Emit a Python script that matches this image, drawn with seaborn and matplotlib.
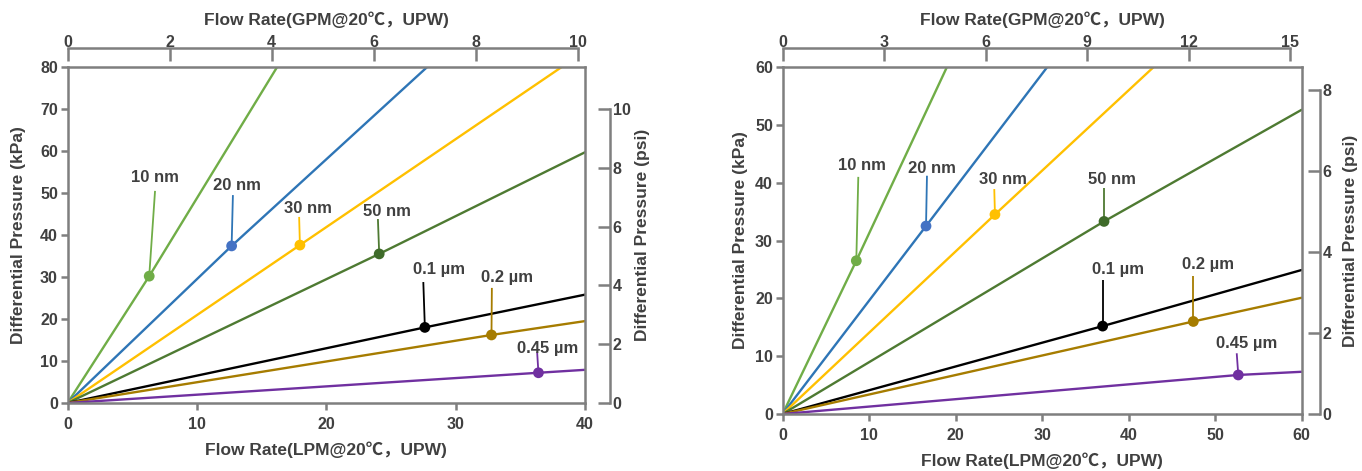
import matplotlib
matplotlib.use("Agg")
import matplotlib.pyplot as plt
import seaborn as sns
import pandas as pd

# ---------------- data ----------------
sizes = ["10 nm", "20 nm", "30 nm", "50 nm", "0.1 µm", "0.2 µm", "0.45 µm"]
line_colors = ["#70AD47", "#2E75B6", "#FFC000", "#4E7A32", "#000000", "#A67C00", "#7030A0"]
marker_colors = ["#70AD47", "#4472C4", "#FFC000", "#3F6B2A", "#000000", "#A67C00", "#7030A0"]

# left chart (40 LPM / 80 kPa)
left_marker_flow = [6.31, 12.68, 17.96, 24.09, 27.62, 32.77, 36.4]
left_marker_kpa = [30.2, 37.4, 37.6, 35.5, 18.0, 16.2, 7.2]
left_end_flow = [16.2, 27.8, 38.2, 40, 40, 40, 40]
left_end_kpa = [80, 80, 80, 59.7, 25.8, 19.5, 7.9]
left_label_flow = [6.76, 13.09, 18.58, 24.68, 28.7, 33.96, 37.1]
left_label_kpa = [53.8, 51.7, 46.2, 45.7, 31.9, 29.8, 13.0]
left_leader_flow = [6.76, 12.78, 17.9, 23.99, 27.5, 32.8, 36.3]
left_leader_kpa = [50.5, 49.5, 44.3, 43.8, 28.8, 27.4, 12.1]
left_lpm_ticks = [0, 10, 20, 30, 40]
left_kpa_ticks = [0, 10, 20, 30, 40, 50, 60, 70, 80]
left_gpm_ticks = [0, 2, 4, 6, 8, 10]
left_psi_ticks = [0, 2, 4, 6, 8, 10]

# right chart (60 LPM / 60 kPa)
right_marker_flow = [8.52, 16.58, 24.55, 37.16, 37.0, 47.48, 52.68]
right_marker_kpa = [26.5, 32.5, 34.5, 33.3, 15.2, 16.0, 6.75]
right_end_flow = [19.0, 30.6, 42.9, 60, 60, 60, 60]
right_end_kpa = [60, 60, 60, 52.6, 24.9, 20.1, 7.3]
right_label_flow = [9.14, 17.24, 25.44, 38.1, 38.8, 49.2, 53.65]
right_label_kpa = [43.0, 42.4, 40.5, 40.5, 25.0, 25.8, 12.2]
right_leader_flow = [8.75, 16.69, 24.47, 37.16, 37.0, 47.48, 52.5]
right_leader_kpa = [41.0, 41.2, 38.9, 39.0, 23.1, 23.9, 10.5]
right_lpm_ticks = [0, 10, 20, 30, 40, 50, 60]
right_kpa_ticks = [0, 10, 20, 30, 40, 50, 60]
right_gpm_ticks = [0, 3, 6, 9, 12, 15]
right_psi_ticks = [0, 2, 4, 6, 8]

# ---------------- style ----------------
sns.set_theme(style="white")
FAM = ["Liberation Sans", "Noto Sans CJK SC", "DejaVu Sans"]
plt.rcParams["font.family"] = FAM
plt.rcParams["font.weight"] = "bold"
TXT = "#404040"
SP = "#7F7F7F"
TICK_FS = 11.5
LAB_FS = 12.5
ANN_FS = 12

fig = plt.figure(figsize=(13.62, 4.71), dpi=100)
W, H = 1362, 471


def make_axes(l, r, t, b):
    return fig.add_axes([l / W, (H - b) / H, (r - l) / W, (b - t) / H])


def draw_chart(ax, mflow, mkpa, eflow, ekpa, lflow, lkpa, qflow, qkpa,
               lpm_ticks, kpa_ticks, gpm_ticks, psi_ticks,
               xmax, ymax, gpm_max, psi_max, psi_off, ylabel_pad, psi_pad):
    rows = []
    for i, s in enumerate(sizes):
        for x, y in [(0, 0), (mflow[i], mkpa[i]), (eflow[i], ekpa[i])]:
            rows.append({"size": s, "flow": x, "kpa": y})
    df = pd.DataFrame(rows)
    mdf = pd.DataFrame({"size": sizes, "flow": mflow, "kpa": mkpa})

    sns.lineplot(data=df, x="flow", y="kpa", hue="size", hue_order=sizes,
                 palette=line_colors, sort=False, estimator=None,
                 legend=False, linewidth=1.7, ax=ax)
    # leader lines and labels
    for i, s in enumerate(sizes):
        ax.plot([qflow[i], mflow[i]], [qkpa[i], mkpa[i]],
                color=line_colors[i], lw=1.3, solid_capstyle="butt", zorder=3)
        ax.text(lflow[i], lkpa[i], s, ha="center", va="center",
                fontsize=ANN_FS, fontweight="bold", color=TXT, zorder=5)
    sns.scatterplot(data=mdf, x="flow", y="kpa", hue="size", hue_order=sizes,
                    palette=marker_colors, s=60, edgecolor="none",
                    legend=False, ax=ax, zorder=4)

    ax.set_xlim(0, xmax)
    ax.set_ylim(0, ymax)
    ax.set_xticks(lpm_ticks)
    ax.set_yticks(kpa_ticks)
    for sp in ax.spines.values():
        sp.set_visible(True)
        sp.set_color(SP)
        sp.set_linewidth(1.8)
    ax.tick_params(axis="both", direction="out", length=5, width=1.8,
                   color=SP, labelsize=TICK_FS, labelcolor=TXT, pad=2)
    ax.tick_params(axis="x", pad=5)
    for lab in ax.get_xticklabels() + ax.get_yticklabels():
        lab.set_fontweight("bold")
    ax.set_xlabel("Flow Rate(LPM@20℃，UPW)", fontsize=LAB_FS, fontweight="bold",
                  color=TXT, labelpad=7)
    ax.set_ylabel("Differential Pressure (kPa)", fontsize=LAB_FS,
                  fontweight="bold", color=TXT, labelpad=ylabel_pad)
    ax.grid(False)

    # top GPM axis
    top = ax.twiny()
    top.set_xlim(0, gpm_max)
    top.set_xticks(gpm_ticks)
    for k in ["left", "right", "bottom"]:
        top.spines[k].set_visible(False)
    top.spines["top"].set_position(("outward", 14))
    top.spines["top"].set_bounds(0, gpm_ticks[-1])
    top.spines["top"].set_color(SP)
    top.spines["top"].set_linewidth(1.8)
    top.tick_params(axis="x", direction="in", length=9, width=1.8, color=SP,
                    labelsize=TICK_FS, labelcolor=TXT, pad=-1.5)
    for lab in top.get_xticklabels():
        lab.set_fontweight("bold")
    top.set_xlabel("Flow Rate(GPM@20℃，UPW)", fontsize=LAB_FS, fontweight="bold",
                   color=TXT, labelpad=7)
    top.grid(False)

    # right psi axis
    rt = ax.twinx()
    rt.set_ylim(0, psi_max)
    rt.set_yticks(psi_ticks)
    for k in ["left", "top", "bottom"]:
        rt.spines[k].set_visible(False)
    rt.spines["right"].set_position(("outward", psi_off))
    rt.spines["right"].set_bounds(0, psi_ticks[-1])
    rt.spines["right"].set_color(SP)
    rt.spines["right"].set_linewidth(1.8)
    rt.tick_params(axis="y", direction="in", length=9, width=1.8, color=SP,
                   labelsize=TICK_FS, labelcolor=TXT, pad=2)
    for lab in rt.get_yticklabels():
        lab.set_fontweight("bold")
    rt.set_ylabel("Differential Pressure (psi)", fontsize=LAB_FS,
                  fontweight="bold", color=TXT, labelpad=psi_pad)
    rt.grid(False)


axL = make_axes(67.6, 585, 67, 403)
draw_chart(axL, left_marker_flow, left_marker_kpa, left_end_flow, left_end_kpa,
           left_label_flow, left_label_kpa, left_leader_flow, left_leader_kpa,
           left_lpm_ticks, left_kpa_ticks, left_gpm_ticks, left_psi_ticks,
           40, 80, 10.14, 80 / 7.0, 18, 10, 3)

axR = make_axes(782.6, 1301.6, 67, 414)
draw_chart(axR, right_marker_flow, right_marker_kpa, right_end_flow, right_end_kpa,
           right_label_flow, right_label_kpa, right_leader_flow, right_leader_kpa,
           right_lpm_ticks, right_kpa_ticks, right_gpm_ticks, right_psi_ticks,
           60, 60, 15.33, 60 / 7.0, 13, 5, 8)

fig.savefig("out.png", dpi=100)
